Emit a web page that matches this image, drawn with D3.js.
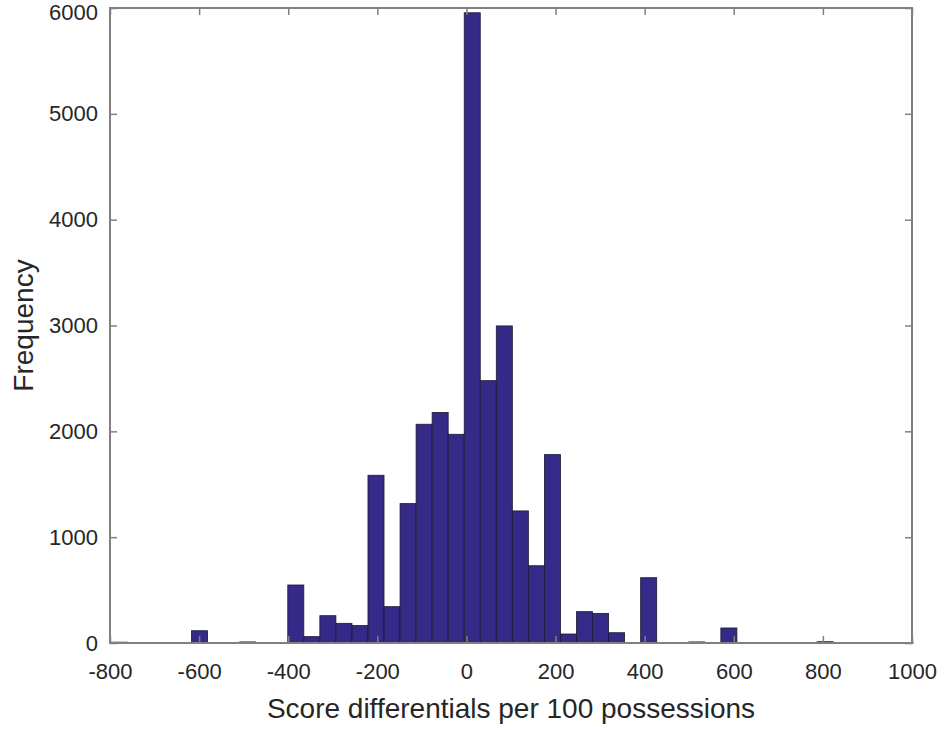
<!DOCTYPE html>
<html>
<head>
<meta charset="utf-8">
<script src="https://cdn.jsdelivr.net/npm/d3@7"></script>
<style>
  body { margin: 0; background: #fff; }
  text { font-family: "Liberation Sans", Arial, sans-serif; fill: #262626; }
</style>
</head>
<body>
<div id="chart"></div>
<script>
// Histogram bin edges (51 edges -> 50 bins)
var binEdges = [-797, -761, -725, -689, -653, -617, -581, -545, -509, -473,
  -437, -401, -365, -329, -293, -257, -221, -185, -149, -113,
  -77, -41, -5, 31, 67, 103, 139, 175, 211, 247,
  283, 319, 355, 391, 427, 463, 499, 535, 571, 607,
  643, 679, 715, 751, 787, 823, 859, 895, 931, 967, 1003];

// Counts per bin
var counts = [8, 2, 0, 0, 0, 116, 0, 2, 10, 3,
  3, 548, 60, 258, 186, 165, 1585, 343, 1317, 2067,
  2178, 1972, 5955, 2479, 2996, 1248, 730, 1780, 85, 296,
  280, 97, 3, 617, 0, 0, 10, 0, 142, 0,
  0, 0, 0, 0, 12, 0, 0, 0, 0, 1];

var xTicks = [-800, -600, -400, -200, 0, 200, 400, 600, 800, 1000];
var yTicks = [0, 1000, 2000, 3000, 4000, 5000, 6000];

var width = 944, height = 730;
var margin = { top: 8, right: 32, bottom: 87, left: 110 };

var svg = d3.select("#chart").append("svg")
  .attr("width", width)
  .attr("height", height);

var x = d3.scaleLinear().domain([-800, 1000]).range([margin.left, width - margin.right]);
var y = d3.scaleLinear().domain([0, 6000]).range([height - margin.bottom, margin.top]);

var bins = counts.map(function(c, i) {
  return { x0: binEdges[i], x1: binEdges[i + 1], count: c };
});

// Bars
svg.append("g")
  .selectAll("rect")
  .data(bins)
  .enter().append("rect")
  .attr("x", function(d) { return x(d.x0); })
  .attr("width", function(d) { return x(d.x1) - x(d.x0); })
  .attr("y", function(d) { return y(d.count); })
  .attr("height", function(d) { return y(0) - y(d.count); })
  .attr("fill", "#352a87")
  .attr("stroke", "#1a1a2e")
  .attr("stroke-width", 0.8);

var tickLen = 7;
var axisColor = "#808080";
var plain = function(d) { return String(d); };

// Bottom axis with inward ticks
var xAxis = svg.append("g")
  .attr("transform", "translate(0," + y(0) + ")")
  .call(d3.axisBottom(x).tickValues(xTicks).tickSizeInner(-tickLen).tickSizeOuter(0)
    .tickPadding(20).tickFormat(plain));

// Top ticks
var xTop = svg.append("g")
  .attr("transform", "translate(0," + y(6000) + ")")
  .call(d3.axisTop(x).tickValues(xTicks).tickSizeInner(-tickLen).tickSizeOuter(0).tickFormat(""));

// Left axis
var yAxis = svg.append("g")
  .attr("transform", "translate(" + x(-800) + ",0)")
  .call(d3.axisLeft(y).tickValues(yTicks).tickSizeInner(-tickLen).tickSizeOuter(0)
    .tickPadding(12).tickFormat(plain));

// Right ticks
var yRight = svg.append("g")
  .attr("transform", "translate(" + x(1000) + ",0)")
  .call(d3.axisRight(y).tickValues(yTicks).tickSizeInner(-tickLen).tickSizeOuter(0).tickFormat(""));

[xAxis, xTop, yAxis, yRight].forEach(function(g) {
  g.select(".domain").remove();
  g.selectAll(".tick line").attr("stroke", axisColor).attr("stroke-width", 1.5);
  g.selectAll(".tick text")
    .attr("font-size", 22)
    .attr("font-family", "Liberation Sans, Arial, sans-serif")
    .attr("fill", "#262626");
});

// top label sits a little lower so it stays inside the page
yAxis.selectAll(".tick text")
  .filter(function(d) { return d === 6000; })
  .attr("dy", "0.5em");

// Box
svg.append("rect")
  .attr("x", x(-800))
  .attr("y", y(6000))
  .attr("width", x(1000) - x(-800))
  .attr("height", y(0) - y(6000))
  .attr("fill", "none")
  .attr("stroke", axisColor)
  .attr("stroke-width", 2);

// Axis labels
svg.append("text")
  .attr("x", (x(-800) + x(1000)) / 2)
  .attr("y", 718)
  .attr("text-anchor", "middle")
  .attr("font-size", 28)
  .text("Score differentials per 100 possessions");

svg.append("text")
  .attr("transform", "translate(33," + (y(0) + y(6000)) / 2 + ") rotate(-90)")
  .attr("text-anchor", "middle")
  .attr("font-size", 28)
  .text("Frequency");
</script>
</body>
</html>
